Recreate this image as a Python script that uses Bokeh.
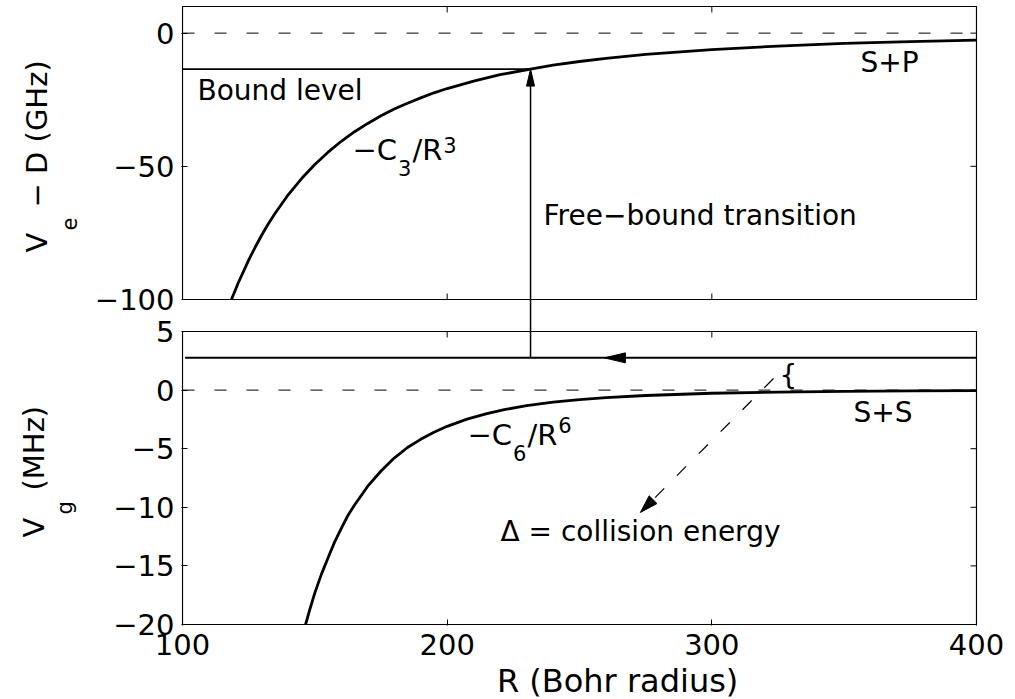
import math
from bokeh.plotting import figure
from bokeh.models import Range1d, FixedTicker, Label
from bokeh.layouts import row, column
from bokeh.embed import file_html
from bokeh.resources import INLINE

# ---------------- data ----------------
# excited-state potential  -C3/R^3  (GHz)
R_ex = [118.5, 121, 125, 127.5, 130, 132.5, 135, 140, 145, 150, 155, 160, 165, 170, 175,
        180, 185, 190, 195, 200, 210, 220, 231.5, 240, 250, 260, 275, 300, 325, 350, 375, 400]
V_ex = [-100, -93.9, -85.2, -80.3, -75.7, -71.5, -67.6, -60.6, -54.6, -49.3, -44.7, -40.6,
        -37.0, -33.9, -31.0, -28.5, -26.3, -24.3, -22.4, -20.8, -18.0, -15.6, -13.5, -12.0,
        -10.65, -9.47, -8.0, -6.16, -4.85, -3.88, -3.16, -2.6]
# ground-state potential  -C6/R^6  (MHz)
R_gr = [146.5, 148, 150, 152.5, 155, 157.5, 160, 162.5, 165, 170, 175, 180, 185, 190, 195,
        200, 207.5, 215, 222, 230, 240, 250, 260, 275, 300, 325, 350, 375, 400]
V_gr = [-20, -18.8, -17.3, -15.7, -14.3, -12.95, -11.8, -10.7, -9.8, -8.2, -6.9, -5.8, -4.9,
        -4.2, -3.6, -3.09, -2.48, -2.0, -1.65, -1.33, -1.03, -0.81, -0.64, -0.46, -0.27,
        -0.17, -0.11, -0.07, -0.05]

x_ticks = [100, 200, 300, 400]
ex_ticks = [-100, -50, 0]
gr_ticks = [-20, -15, -10, -5, 0, 5]
x_lim = [100, 400]
ex_lim = [-100, 10]
gr_lim = [-20, 5]

zero_level = 0
bound_level = -13.5          # GHz, top panel
transition_R = 231.5         # where the free-bound arrow sits
collision_level = 2.75       # MHz, bottom panel
collision_R0 = 101
flow_arrow_R = 259.4
delta_start = (323.3, 0.99)
delta_end = (273.0, -10.44)

# ---------------- geometry (pixels on the page) ----------------
BOX_L, BOX_R = 182, 976
TOP_T, TOP_B = 6, 299
BOT_T, BOT_B = 331, 624
PAD = 1
W, H = 1015, 699
LEFT_W = 86          # strip holding the y titles
MAIN_H = 661         # main figure height; strip below holds the x title
FONT = "DejaVu Sans"
MID = 0.35           # baseline sits this many em below a "middle" anchor

pxR = (BOX_R - BOX_L) / (x_lim[1] - x_lim[0])


def R2px(r):
    return BOX_L + (r - x_lim[0]) * pxR


def px2R(px):
    return x_lim[0] + (px - BOX_L) / pxR


def py2bot(py):
    return gr_lim[0] + (BOT_B - py) * (gr_lim[1] - gr_lim[0]) / (BOT_B - BOT_T)


def bot2py(v):
    return BOT_B - (v - gr_lim[0]) * (BOT_B - BOT_T) / (gr_lim[1] - gr_lim[0])


def py2top(py):
    return ex_lim[0] + (TOP_B - py) * (ex_lim[1] - ex_lim[0]) / (TOP_B - TOP_T)


def top2py(v):
    return TOP_B - (v - ex_lim[0]) * (TOP_B - TOP_T) / (ex_lim[1] - ex_lim[0])


def top2bot(v):
    return py2bot(top2py(v))


p = figure(width=W - LEFT_W, height=MAIN_H, output_backend="svg", toolbar_location=None,
           title=None,
           x_range=Range1d(px2R(BOX_L - PAD), px2R(BOX_R + PAD)),
           y_range=Range1d(py2bot(BOT_B + PAD), py2bot(TOP_T - PAD)),
           min_border_left=BOX_L - PAD - LEFT_W, min_border_right=W - (BOX_R + PAD),
           min_border_top=TOP_T - PAD, min_border_bottom=MAIN_H - (BOT_B + PAD))
p.extra_y_ranges = {"top": Range1d(py2top(BOT_B + PAD), py2top(TOP_T - PAD))}
p.outline_line_color = None
p.background_fill_color = "white"
p.border_fill_color = "white"
p.grid.visible = False


def fmt(v):
    return str(int(v)).replace("-", "\u2212")


# left axis carries tick labels for both panels
yax = p.yaxis[0]
left_pos = [float(t) for t in gr_ticks] + [top2bot(t) for t in ex_ticks]
left_lab = [fmt(t) for t in gr_ticks] + [fmt(t) for t in ex_ticks]
yax.ticker = FixedTicker(ticks=left_pos)
yax.major_label_overrides = {k: v for k, v in zip(left_pos, left_lab)}
yax.axis_line_color = None
yax.major_tick_in = 6
yax.major_tick_out = 0
yax.minor_tick_line_color = None
yax.major_tick_line_width = 1
yax.major_label_standoff = 7
yax.major_label_text_font = FONT
yax.major_label_text_font_size = "29px"
yax.major_label_text_color = "black"

xax = p.xaxis[0]
xax.ticker = FixedTicker(ticks=x_ticks)
xax.major_label_overrides = {t: fmt(t) for t in x_ticks}
xax.axis_line_color = None
xax.major_tick_in = 6
xax.major_tick_out = 0
xax.minor_tick_line_color = None
xax.major_label_standoff = 8
xax.major_label_text_font = FONT
xax.major_label_text_font_size = "29px"
xax.major_label_text_color = "black"

# panel boxes
p.quad(left=x_lim[0], right=x_lim[1], bottom=ex_lim[0], top=ex_lim[1], y_range_name="top",
       fill_color=None, line_color="black", line_width=1.2)
p.quad(left=x_lim[0], right=x_lim[1], bottom=gr_lim[0], top=gr_lim[1],
       fill_color=None, line_color="black", line_width=1.2)

# inner ticks on the other edges
TL = 6
dR = TL / pxR
d_top = TL * (ex_lim[1] - ex_lim[0]) / (TOP_B - TOP_T)
d_bot = TL * (gr_lim[1] - gr_lim[0]) / (BOT_B - BOT_T)
p.segment(x0=[x_lim[1]] * len(ex_ticks), y0=ex_ticks, x1=[x_lim[1] - dR] * len(ex_ticks),
          y1=ex_ticks, y_range_name="top", line_color="black", line_width=1)
p.segment(x0=[x_lim[1]] * len(gr_ticks), y0=gr_ticks, x1=[x_lim[1] - dR] * len(gr_ticks),
          y1=gr_ticks, line_color="black", line_width=1)
p.segment(x0=x_ticks, y0=[ex_lim[1]] * 4, x1=x_ticks, y1=[ex_lim[1] - d_top] * 4,
          y_range_name="top", line_color="black", line_width=1)
p.segment(x0=x_ticks, y0=[ex_lim[0]] * 4, x1=x_ticks, y1=[ex_lim[0] + d_top] * 4,
          y_range_name="top", line_color="black", line_width=1)
p.segment(x0=x_ticks, y0=[gr_lim[1]] * 4, x1=x_ticks, y1=[gr_lim[1] - d_bot] * 4,
          line_color="black", line_width=1)

# dashed zero levels
p.line(x_lim, [zero_level, zero_level], y_range_name="top", line_color="black",
       line_width=1, line_dash="12 20")
p.line(x_lim, [zero_level, zero_level], line_color="black", line_width=1, line_dash="12 20")

# potentials
p.line(R_ex, V_ex, y_range_name="top", line_color="black", line_width=2.8)
p.line(R_gr, V_gr, line_color="black", line_width=2.8)

# bound level
p.line([x_lim[0], transition_R], [bound_level, bound_level], y_range_name="top",
       line_color="black", line_width=1.8)
# collision energy level
p.line([collision_R0, x_lim[1]], [collision_level, collision_level], line_color="black",
       line_width=2)


def head(tip_px, dirv, L, Wd):
    n = math.hypot(*dirv)
    ux, uy = dirv[0] / n, dirv[1] / n
    bx, by = tip_px[0] - ux * L, tip_px[1] - uy * L
    qx, qy = -uy, ux
    pts = [tip_px, (bx + qx * Wd / 2, by + qy * Wd / 2), (bx - qx * Wd / 2, by - qy * Wd / 2)]
    xs = [px2R(a) for a, b in pts]
    ys = [py2bot(b) for a, b in pts]
    return xs, ys, (px2R(bx), py2bot(by))


# free-bound transition arrow (vertical, crossing both panels)
tip = (R2px(transition_R), top2py(bound_level))
hx, hy, base = head(tip, (0, -1), 17, 8)
p.line([transition_R, transition_R], [collision_level, base[1]], line_color="black",
       line_width=1.5)
p.patch(hx, hy, fill_color="black", line_color="black", line_width=1)

# flow arrow on the collision line
tip = (R2px(flow_arrow_R), bot2py(collision_level))
hx, hy, base = head(tip, (-1, 0), 21, 10)
p.patch(hx, hy, fill_color="black", line_color="black", line_width=1)

# dashed arrow to the Delta label
s_px = (R2px(delta_start[0]), bot2py(delta_start[1]))
e_px = (R2px(delta_end[0]), bot2py(delta_end[1]))
hx, hy, base = head(e_px, (e_px[0] - s_px[0], e_px[1] - s_px[1]), 18, 11)
p.line([delta_start[0], base[0]], [delta_start[1], base[1]], line_color="black",
       line_width=1.2, line_dash="13 18")
p.patch(hx, hy, fill_color="black", line_color="black", line_width=1)


def lab(text, px, py, size, align="left"):
    p.add_layout(Label(x=px2R(px), y=py2bot(py), text=text, text_font=FONT,
                       text_font_size=f"{size}px", text_align=align,
                       text_baseline="middle", text_color="black"))


def lab_base(text, px, base_py, size):
    lab(text, px, base_py - MID * size, size)


# in-plot annotations
lab("Bound level", 197, 90, 28)
lab("S+P", 860, 62, 28)
lab("Free\u2212bound transition", 543, 215, 28)
lab("S+S", 853, 412, 28)
lab("\u0394 = collision energy", 500, 531, 28)
lab("{", 779, 375, 28)

# -C3/R^3 and -C6/R^6 (pieces chained by their widths)
MAIN_F, SUB_F = 29, 21
w_mc = (0.838 + 0.698) * MAIN_F
w_sr = (0.337 + 0.695) * MAIN_F
w_d = 0.636 * SUB_F


def formula(digit, x0, base_y, sub_dy, sup_dy):
    lab_base("\u2212C", x0, base_y, MAIN_F)
    lab_base(digit, x0 + w_mc + 1, base_y + sub_dy, SUB_F)
    lab_base("/R", x0 + w_mc + w_d + 2, base_y, MAIN_F)
    lab_base(digit, x0 + w_mc + w_d + w_sr + 3, base_y + sup_dy, SUB_F)


formula("3", 352, 160, 15, -8)
formula("6", 467, 445, 15, -13)

# ---- y titles (left strip) ----
yl = figure(width=LEFT_W, height=H, output_backend="svg", toolbar_location=None, title=None,
            x_range=Range1d(0, LEFT_W), y_range=Range1d(H, 0),
            x_axis_type=None, y_axis_type=None,
            min_border_left=0, min_border_right=0, min_border_top=0, min_border_bottom=0)
yl.outline_line_color = None
yl.grid.visible = False
ROT = math.pi / 2


def ylab(text, base_px, start_py, size):
    # rotated text reading upwards; glyph tops point left of the baseline
    yl.add_layout(Label(x=base_px - MID * size, y=start_py, text=text, text_font=FONT,
                        text_font_size=f"{size}px", text_align="left",
                        text_baseline="middle", angle=ROT, text_color="black"))


ylab("V", 47, 252, 29)
ylab("e", 76, 230, 21)
ylab("\u2212 D (GHz)", 47, 207, 29)
ylab("V", 44, 537, 29)
ylab("g", 72, 514, 21)
ylab("(MHz)", 44, 490, 29)

# ---- x title (bottom strip) ----
xl = figure(width=W - LEFT_W, height=H - MAIN_H, output_backend="svg", toolbar_location=None,
            title=None, x_range=Range1d(LEFT_W, W), y_range=Range1d(H, MAIN_H),
            x_axis_type=None, y_axis_type=None,
            min_border_left=0, min_border_right=0, min_border_top=0, min_border_bottom=0)
xl.outline_line_color = None
xl.grid.visible = False
XL_F = 32
xl.add_layout(Label(x=595, y=(H + MAIN_H) / 2, text="R (Bohr radius)", text_font=FONT,
                    text_font_size=f"{XL_F}px", text_align="center", text_baseline="middle",
                    text_color="black"))

layout = row(yl, column(p, xl))
open("out.html", "w").write(file_html(layout, INLINE))
